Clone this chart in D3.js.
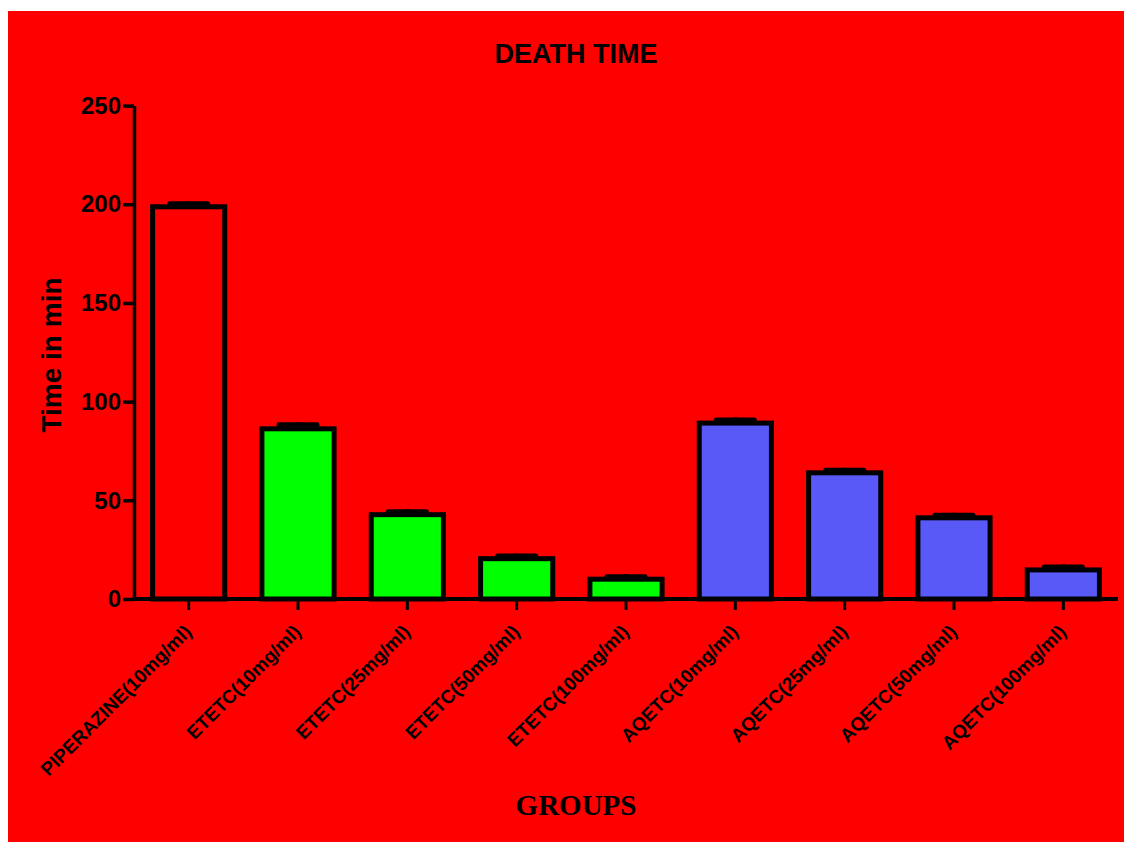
<!DOCTYPE html>
<html>
<head>
<meta charset="utf-8">
<script src="https://cdn.jsdelivr.net/npm/d3@7"></script>
<style>
  body { margin: 0; background: #ffffff; }
  svg { display: block; }
</style>
</head>
<body>
<div id="chart"></div>
<script>
const width = 1124;
const height = 842;
const left_x = 134;
const right_x = 1118;
const top_y = 105.6;
const base_y = 599;
const bar_stroke = 5;

// data
var groups = ["PIPERAZINE(10mg/ml)", "ETETC(10mg/ml)", "ETETC(25mg/ml)", "ETETC(50mg/ml)",
              "ETETC(100mg/ml)", "AQETC(10mg/ml)", "AQETC(25mg/ml)", "AQETC(50mg/ml)", "AQETC(100mg/ml)"];
var means = [200, 87.5, 44, 21.7, 11.3, 90.4, 65.2, 42.4, 16];
var sems = [1.5, 2, 1.5, 1.3, 1.3, 1.6, 1.3, 1.3, 1.5];
var fills = ["#ff0000", "#00ff00", "#00ff00", "#00ff00", "#00ff00", "#5959f7", "#5959f7", "#5959f7", "#5959f7"];
var yTicks = [0, 50, 100, 150, 200, 250];

function drawChart() {
    var svg = d3.select("#chart").append("svg")
        .attr("width", width)
        .attr("height", height);

    // red panel, leaves a thin white strip top/left like the original
    svg.append("rect")
        .attr("x", 8).attr("y", 11)
        .attr("width", width - 8).attr("height", height - 11)
        .attr("fill", "#ff0000");

    var x = d3.scaleBand()
        .domain(groups)
        .range([left_x, right_x])
        .paddingInner(0.34)
        .paddingOuter(0.17);
    var y = d3.scaleLinear()
        .domain([0, 250])
        .range([base_y, top_y]);

    var rows = groups.map((g, i) => {
        return {name: g, mean: means[i], sem: sems[i], fill: fills[i]};
    });

    // error bars (upper only), drawn before the bars
    var err = svg.append("g").selectAll("g.err")
        .data(rows)
        .enter()
        .append("g");
    err.append("line")
        .attr("x1", (d) => x(d.name) + x.bandwidth() / 2)
        .attr("x2", (d) => x(d.name) + x.bandwidth() / 2)
        .attr("y1", (d) => y(d.mean))
        .attr("y2", (d) => y(d.mean + d.sem))
        .attr("stroke", "#000")
        .attr("stroke-width", 4);
    err.append("line")
        .attr("x1", (d) => x(d.name) + x.bandwidth() / 2 - 19)
        .attr("x2", (d) => x(d.name) + x.bandwidth() / 2 + 19)
        .attr("y1", (d) => y(d.mean + d.sem) + 2.5)
        .attr("y2", (d) => y(d.mean + d.sem) + 2.5)
        .attr("stroke", "#000")
        .attr("stroke-width", 5)
        .attr("stroke-linecap", "round");

    svg.append("g").selectAll("rect.bar")
        .data(rows)
        .enter()
        .append("rect")
        .attr("x", (d) => x(d.name))
        .attr("y", (d) => y(d.mean) + bar_stroke / 2)
        .attr("width", x.bandwidth())
        .attr("height", (d) => y(0) - y(d.mean) - bar_stroke / 2)
        .attr("fill", (d) => d.fill)
        .attr("stroke", "#000")
        .attr("stroke-width", bar_stroke);

    // y axis
    var yAxis = svg.append("g")
        .attr("transform", "translate(" + left_x + ",0)")
        .call(d3.axisLeft(y).tickValues(yTicks).tickSize(11).tickPadding(2).tickSizeOuter(0));
    yAxis.select(".domain").attr("stroke-width", 3.5);
    yAxis.selectAll(".tick line").attr("stroke-width", 3.5);
    yAxis.selectAll("text")
        .attr("font-family", "Liberation Sans, Arial, sans-serif")
        .attr("font-weight", "bold")
        .attr("font-size", 24)
        .attr("fill", "#000");

    // x axis
    var xAxis = svg.append("g")
        .attr("transform", "translate(0," + base_y + ")")
        .call(d3.axisBottom(x).tickSize(11).tickSizeOuter(0));
    xAxis.select(".domain")
        .attr("stroke-width", 4)
        .attr("d", "M" + (left_x - 1.5) + ",0H" + right_x);
    xAxis.selectAll(".tick line").attr("stroke-width", 3);
    xAxis.selectAll("text")
        .attr("font-family", "Liberation Sans, Arial, sans-serif")
        .attr("font-weight", "bold")
        .attr("font-size", 19)
        .attr("fill", "#000")
        .attr("text-anchor", "end")
        .attr("dy", null)
        .attr("y", null)
        .attr("transform", "translate(4,34) rotate(-45)");

    // titles
    svg.append("text")
        .attr("x", 576).attr("y", 63)
        .attr("text-anchor", "middle")
        .attr("font-family", "Liberation Sans, Arial, sans-serif")
        .attr("font-weight", "bold")
        .attr("font-size", 27)
        .text("DEATH TIME");

    svg.append("text")
        .attr("transform", "translate(61,355) rotate(-90)")
        .attr("text-anchor", "middle")
        .attr("font-family", "Liberation Sans, Arial, sans-serif")
        .attr("font-weight", "bold")
        .attr("font-size", 28)
        .text("Time in min");

    svg.append("text")
        .attr("x", 576).attr("y", 815)
        .attr("text-anchor", "middle")
        .attr("font-family", "Liberation Serif, Times New Roman, serif")
        .attr("font-weight", "bold")
        .attr("font-size", 29)
        .text("GROUPS");
}

drawChart();
</script>
</body>
</html>
